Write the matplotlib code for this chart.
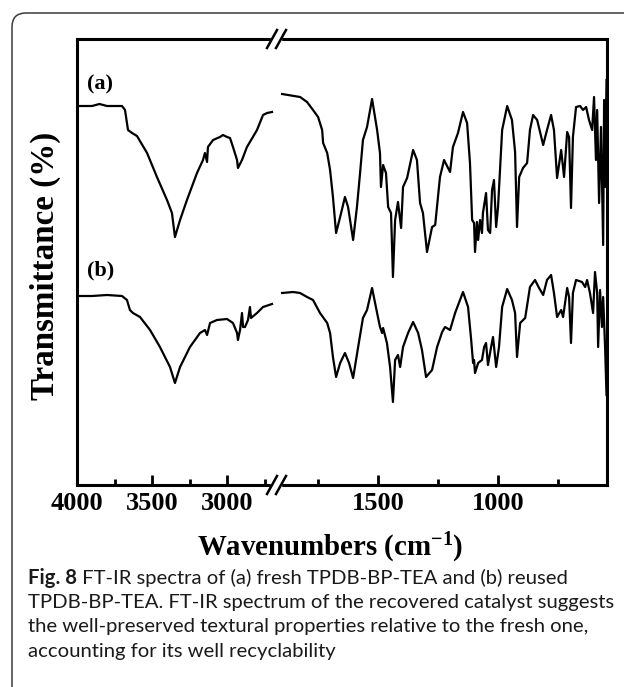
import matplotlib
matplotlib.use("Agg")
import matplotlib.pyplot as plt
from matplotlib.lines import Line2D
from matplotlib.patches import FancyBboxPatch, Rectangle
from matplotlib.transforms import Affine2D
from matplotlib.ticker import FixedLocator

# ---- spectra (transmittance in arbitrary units) ----
# high wavenumber window
wn_hi_a = [3995, 3900, 3850, 3800, 3700, 3680, 3660, 3633, 3600, 3533, 3467, 3400, 3367,
           3347, 3313, 3267, 3200, 3160, 3147, 3133, 3127, 3093, 3047, 3027, 3000, 2980,
           2960, 2933, 2927, 2900, 2867, 2800, 2760, 2733, 2700]
tr_hi_a = [379, 379, 381, 379, 379, 375, 355, 352, 349, 332, 308, 285, 272,
           248, 265, 285, 312, 325, 332, 323, 338, 345, 348, 350, 348, 347,
           338, 325, 317, 325, 338, 355, 370, 372, 373]

wn_hi_b = [3995, 3900, 3800, 3700, 3667, 3647, 3627, 3580, 3513, 3447, 3380, 3347, 3313,
           3247, 3180, 3147, 3133, 3113, 3067, 3000, 2960, 2933, 2927, 2913, 2900, 2893,
           2880, 2860, 2847, 2840, 2800, 2760, 2700]
tr_hi_b = [189, 189, 190, 189, 185, 175, 172, 168, 155, 138, 118, 102, 118,
           138, 152, 155, 150, 162, 165, 166, 162, 152, 145, 155, 172, 158,
           158, 165, 178, 167, 172, 178, 181]

# fingerprint window
wn_lo_a = [1900, 1825, 1796, 1771, 1750, 1733, 1729, 1712, 1700, 1688, 1675, 1658, 1638,
           1625, 1604, 1588, 1575, 1563, 1546, 1525, 1504, 1492, 1488, 1479, 1467, 1458,
           1446, 1438, 1429, 1417, 1404, 1396, 1379, 1354, 1338, 1325, 1313, 1296, 1275,
           1262, 1242, 1225, 1200, 1188, 1167, 1146, 1129, 1117, 1108, 1100, 1096, 1088,
           1083, 1075, 1067, 1063, 1050, 1042, 1033, 1025, 1017, 1008, 1000, 983, 962,
           942, 929, 921, 912, 896, 879, 867, 854, 837, 812, 796, 779, 767, 754, 737,
           725, 712, 704, 696, 688, 675, 658, 646, 633, 621, 608, 600, 592, 587, 579,
           571, 562, 558, 554, 548]
tr_lo_a = [391, 388, 383, 375, 368, 355, 342, 332, 315, 288, 252, 268, 288,
           278, 245, 278, 312, 345, 358, 386, 355, 332, 298, 320, 312, 278,
           272, 208, 265, 283, 257, 298, 307, 335, 325, 282, 272, 233, 258,
           260, 308, 325, 313, 338, 352, 373, 362, 322, 265, 262, 233, 263,
           245, 265, 252, 272, 292, 255, 252, 295, 305, 258, 278, 355, 379,
           365, 333, 258, 308, 317, 322, 355, 370, 365, 340, 355, 370, 355, 307, 335,
           308, 353, 348, 277, 348, 378, 379, 375, 378, 365, 355, 388, 325, 375, 282,
           358, 240, 385, 298, 405]

wn_lo_b = [1900, 1854, 1825, 1796, 1771, 1742, 1712, 1700, 1688, 1675, 1658, 1638, 1621,
           1604, 1583, 1563, 1546, 1525, 1504, 1492, 1483, 1479, 1463, 1450, 1438, 1429,
           1417, 1408, 1396, 1375, 1354, 1333, 1317, 1300, 1275, 1254, 1233, 1221, 1200,
           1179, 1146, 1125, 1112, 1104, 1100, 1096, 1083, 1067, 1058, 1050, 1042, 1029,
           1021, 1008, 996, 983, 962, 942, 929, 921, 908, 887, 867, 846, 829, 812,
           796, 779, 767, 754, 737, 729, 712, 704, 696, 688, 675, 650, 637, 629, 617,
           604, 596, 587, 583, 575, 567, 562, 554, 548]
tr_lo_b = [192, 193, 192, 188, 185, 172, 162, 152, 128, 108, 122, 132, 122,
           107, 138, 167, 175, 197, 172, 158, 152, 157, 142, 118, 83, 125,
           130, 118, 138, 152, 163, 152, 135, 108, 115, 138, 153, 158, 155,
           172, 193, 178, 145, 122, 125, 112, 122, 125, 138, 142, 120, 138,
           148, 118, 138, 178, 196, 185, 172, 128, 162, 167, 198, 205, 197, 190,
           205, 210, 192, 168, 175, 168, 197, 188, 142, 192, 205, 203, 198, 205, 192,
           172, 213, 192, 138, 195, 158, 188, 138, 90]

label_a = "(a)"
label_b = "(b)"
major_hi = [4000, 3500, 3000]
minor_hi = [3750, 3250, 2750]
major_lo = [1500, 1000]
minor_lo = [1750, 1250, 750]
xlabel = r"Wavenumbers (cm$^{-1}$)"
ylabel = "Transmittance (%)"
caption_bold = "Fig. 8"
caption_lines = [" FT-IR spectra of (a) fresh TPDB-BP-TEA and (b) reused",
                 "TPDB-BP-TEA. FT-IR spectrum of the recovered catalyst suggests",
                 "the well-preserved textural properties relative to the fresh one,",
                 "accounting for its well recyclability"]

plt.rcParams['font.family'] = 'Liberation Serif'
plt.rcParams['mathtext.fontset'] = 'custom'
plt.rcParams['mathtext.rm'] = 'Liberation Serif:bold'
plt.rcParams['mathtext.it'] = 'Liberation Serif:bold'
plt.rcParams['mathtext.bf'] = 'Liberation Serif:bold'
plt.rcParams['mathtext.default'] = 'rm'

W, H = 624, 687
fig = plt.figure(figsize=(W / 100, H / 100), dpi=100)
# pixel coordinates measured from the top-left corner
pix = Affine2D().scale(1 / W, -1 / H).translate(0, 1) + fig.transFigure


def box(x0, y0, x1, y1):
    return [x0 / W, 1 - y1 / H, (x1 - x0) / W, (y1 - y0) / H]


def fit_width(txt, target_px, vertical=False):
    # scale the font so the text spans the width seen in the picture
    fig.canvas.draw()
    bb = txt.get_window_extent()
    cur = bb.height if vertical else bb.width
    txt.set_fontsize(txt.get_fontsize() * target_px / cur)


axL = fig.add_axes(box(77, 39, 278, 485))
axR = fig.add_axes(box(278, 39, 607, 485))

axL.plot(wn_hi_a, tr_hi_a, color='black', lw=1.6)
axL.plot(wn_hi_b, tr_hi_b, color='black', lw=1.6)
axR.plot(wn_lo_a, tr_lo_a, color='black', lw=1.6)
axR.plot(wn_lo_b, tr_lo_b, color='black', lw=1.6)

axL.set_xlim(4000, 2660)
axR.set_xlim(1917, 546)
axL.xaxis.set_major_locator(FixedLocator(major_hi))
axL.xaxis.set_minor_locator(FixedLocator(minor_hi))
axR.xaxis.set_major_locator(FixedLocator(major_lo))
axR.xaxis.set_minor_locator(FixedLocator(minor_lo))
for ax in (axL, axR):
    ax.set_ylim(0, 446)
    ax.set_yticks([])
    for s in ax.spines.values():
        s.set_linewidth(2.2)
    ax.tick_params(axis='x', which='both', direction='in', width=2, top=False,
                   labelsize=19, pad=5)
    ax.tick_params(axis='x', which='major', length=7)
    ax.tick_params(axis='x', which='minor', length=4)
    for lab in ax.get_xticklabels():
        lab.set_fontweight('bold')
axL.spines['right'].set_visible(False)
axR.spines['left'].set_visible(False)

axL.text(0.05, 0.897, label_a, transform=axL.transAxes, fontsize=16,
         fontweight='bold', va='center', ha='left')
axL.text(0.05, 0.48, label_b, transform=axL.transAxes, fontsize=16,
         fontweight='bold', va='center', ha='left')

# axis break marks
for yb in (39, 485):
    fig.add_artist(Rectangle((271, yb - 3), 10, 6, transform=pix, color='white',
                             zorder=10))
    for dx in (0, 9):
        fig.add_artist(Line2D([267 + dx, 277 + dx], [yb + 9, yb - 9], transform=pix,
                              color='black', lw=1.8, zorder=11))

xl = fig.text(330 / W, 1 - 548 / H, xlabel, ha='center', va='center', fontsize=21.5,
              fontweight='bold')
yl = fig.text(45 / W, 1 - 266 / H, ylabel, ha='center', va='center', fontsize=24,
              fontweight='bold', rotation=90)
fit_width(xl, 266)
fit_width(yl, 268, vertical=True)

# rounded frame of the figure panel
fig.add_artist(FancyBboxPatch((12, 13), 700, 760, boxstyle='round,pad=0,rounding_size=14',
                              transform=pix, fill=False, edgecolor='#3a3a3a', lw=1.1))

# caption
cap_font = ['Lato', 'DejaVu Sans']
base0, pitch = 584, 24.2
probe = fig.text(28 / W, 0.5, caption_lines[1], family=cap_font, fontsize=14)
fit_width(probe, 587)
cap_size = probe.get_fontsize()
probe.remove()

t1 = fig.text(28 / W, 1 - base0 / H, caption_bold, family=cap_font, fontsize=cap_size,
              fontweight='bold', va='baseline', color='#1a1a1a')
fig.canvas.draw()
ext = t1.get_window_extent()
for i, line in enumerate(caption_lines):
    x0 = ext.x1 if i == 0 else 28
    fig.text(x0 / W, 1 - (base0 + pitch * i) / H, line, family=cap_font,
             fontsize=cap_size, va='baseline', color='#1a1a1a')

fig.savefig("out.png", dpi=100)
